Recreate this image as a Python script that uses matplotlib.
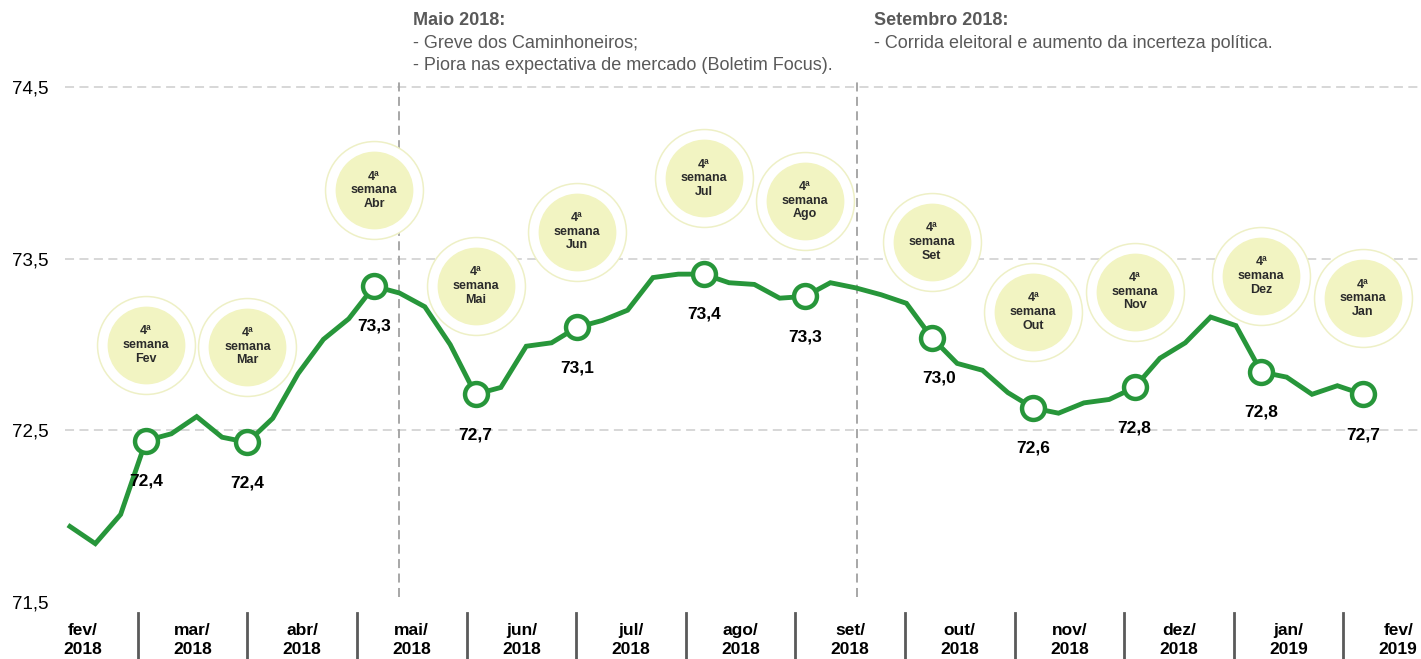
import matplotlib.pyplot as plt
import matplotlib.transforms as mtransforms
import numpy as np

plt.rcParams['font.family'] = ['Liberation Sans', 'DejaVu Sans']

# valores semanais (fev/2018 a jan/2019)
valores = [71.94, 71.84, 72.01, 72.44, 72.48, 72.58, 72.46, 72.43, 72.57, 72.83,
           73.03, 73.15, 73.34, 73.30, 73.22, 73.00, 72.71, 72.75, 72.99, 73.01,
           73.10, 73.14, 73.20, 73.39, 73.41, 73.41, 73.36, 73.35, 73.27, 73.28,
           73.36, 73.33, 73.29, 73.24, 73.04, 72.89, 72.85, 72.72, 72.63, 72.60,
           72.66, 72.68, 72.75, 72.92, 73.01, 73.16, 73.11, 72.84, 72.81, 72.71,
           72.76, 72.71]
semanas = np.arange(len(valores))

# semana 4 de cada mes
semana4 = [3, 7, 12, 16, 20, 25, 29, 34, 38, 42, 47, 51]
rotulos = ['72,4', '72,4', '73,3', '72,7', '73,1', '73,4',
           '73,3', '73,0', '72,6', '72,8', '72,8', '72,7']
meses_bolha = ['Fev', 'Mar', 'Abr', 'Mai', 'Jun', 'Jul',
               'Ago', 'Set', 'Out', 'Nov', 'Dez', 'Jan']
meses = ['fev/\n2018', 'mar/\n2018', 'abr/\n2018', 'mai/\n2018', 'jun/\n2018',
         'jul/\n2018', 'ago/\n2018', 'set/\n2018', 'out/\n2018', 'nov/\n2018',
         'dez/\n2018', 'jan/\n2019', 'fev/\n2019']
eventos = [12.98, 31.05]

verde = '#27963a'

fig = plt.figure(figsize=(14.21, 6.59), dpi=100)
ax = fig.add_axes([65 / 1421, 57 / 659, 1 - 65 / 1421, 562 / 659])
ax.set_xlim(-0.195, 53.3)
ax.set_ylim(71.5, 74.774)

for s in ax.spines.values():
    s.set_visible(False)
ax.set_xticks([])
ax.set_yticks([71.5, 72.5, 73.5, 74.5])
ax.set_yticklabels(['71,5', '72,5', '73,5', '74,5'], fontsize=13.5)
ax.tick_params(axis='y', length=0, pad=12)

for g in [72.5, 73.5, 74.5]:
    ax.axhline(g, color='#d4d4d4', lw=1.3, ls=(0, (5, 3)), zorder=0)

for e in eventos:
    ax.plot([e, e], [71.53, 74.54], color='#a0a0a0', lw=1.3, ls=(0, (5, 3)), zorder=1)

ax.plot(semanas, valores, color=verde, lw=3.5, zorder=3, solid_joinstyle='miter')

xm = [semanas[i] for i in semana4]
ym = [valores[i] for i in semana4]
ax.plot(xm, ym, 'o', ms=16.5, mfc='white', mec=verde, mew=3.2, zorder=4)

for k, (x, y) in enumerate(zip(xm, ym)):
    dx = 5 if meses_bolha[k] == 'Set' else 0
    ax.annotate(rotulos[k], (x, y), xytext=(dx, -29), textcoords='offset points',
                ha='center', va='center', fontsize=12.5, fontweight='bold', zorder=5)
    dy = 78 if meses_bolha[k] == 'Mai' else 69
    tr = mtransforms.offset_copy(ax.transData, fig=fig, x=0, y=dy, units='points')
    ax.plot([x], [y], 'o', ms=70.5, mfc='white', mec='#eef0c6', mew=1.1,
            transform=tr, zorder=2)
    ax.plot([x], [y], 'o', ms=56, mfc='#f2f4c2', mec='none', transform=tr, zorder=2)
    ax.annotate('4ª\nsemana\n' + meses_bolha[k], (x, y), xytext=(0, dy),
                textcoords='offset points', ha='center', va='center',
                fontsize=9, fontweight='bold', color='#2b2b2b',
                linespacing=1.2, zorder=3)

# eixo de meses
axm = ax.twiny()
axm.set_xlim(-0.164, 12.208)
axm.set_axis_off()
tb = mtransforms.blended_transform_factory(axm.transData, axm.transAxes)
for k, m in enumerate(meses):
    axm.text(k, -0.068, m, transform=tb, ha='center', va='center',
             fontsize=12.5, fontweight='bold', linespacing=1.3)
for k in range(12):
    axm.plot([k + 0.5, k + 0.5], [-0.019, -0.105], transform=tb, color='#5a5a5a',
             lw=2, clip_on=False)

cinza = '#595959'
fig.text(413 / 1421, 1 - 12 / 659, 'Maio 2018:', fontsize=13, fontweight='bold',
         color=cinza, va='top')
fig.text(413 / 1421, 1 - 35 / 659, '- Greve dos Caminhoneiros;', fontsize=13,
         color=cinza, va='top')
fig.text(413 / 1421, 1 - 57 / 659,
         '- Piora nas expectativa de mercado (Boletim Focus).', fontsize=13,
         color=cinza, va='top')
fig.text(874 / 1421, 1 - 12 / 659, 'Setembro 2018:', fontsize=13, fontweight='bold',
         color=cinza, va='top')
fig.text(874 / 1421, 1 - 35 / 659,
         '- Corrida eleitoral e aumento da incerteza política.', fontsize=13,
         color=cinza, va='top')

fig.savefig('out.png', dpi=100)
